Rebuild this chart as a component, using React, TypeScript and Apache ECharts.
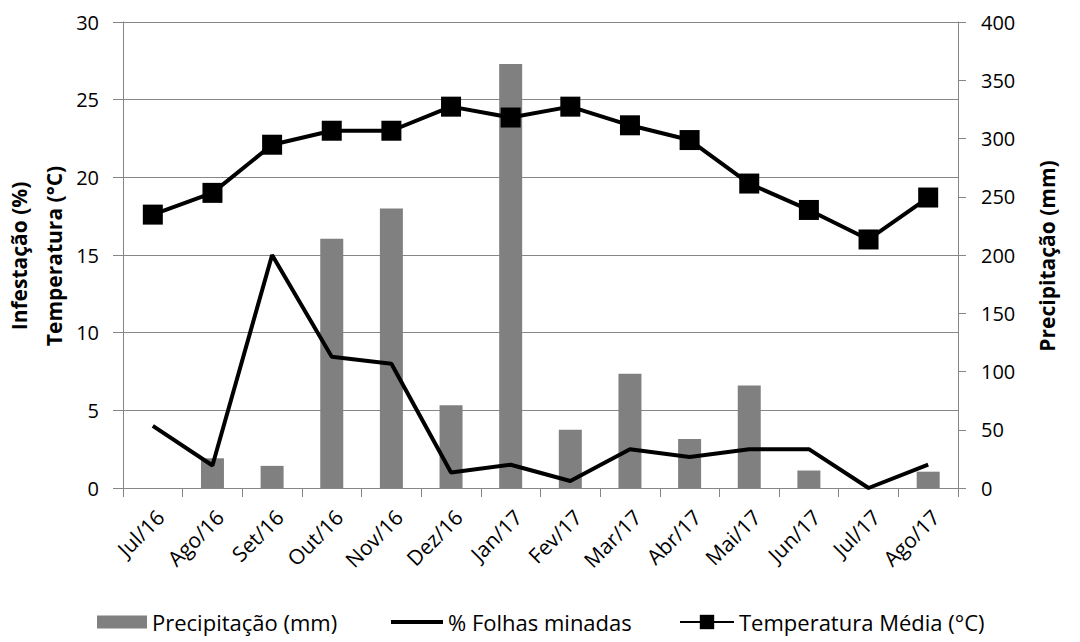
import React, { useEffect, useRef } from "react";
import * as echarts from "echarts";

const categories = ["Jul/16", "Ago/16", "Set/16", "Out/16", "Nov/16", "Dez/16", "Jan/17", "Fev/17", "Mar/17", "Abr/17", "Mai/17", "Jun/17", "Jul/17", "Ago/17"];
const precipitacao = [0, 25.5, 19, 214, 240, 71, 364, 50, 98, 42, 88, 15, 0, 14];
const folhasMinadas = [4.0, 1.45, 15.0, 8.45, 8.0, 1.0, 1.5, 0.45, 2.5, 2.0, 2.5, 2.5, 0, 1.5];
const temperatura = [17.6, 19.0, 22.1, 23.0, 23.0, 24.55, 23.85, 24.55, 23.35, 22.4, 19.6, 17.9, 16.0, 18.7];
const leftTicks = { min: 0, max: 30, interval: 5 };
const rightTicks = { min: 0, max: 400, interval: 50 };

const FONT = "'Open Sans', 'Noto Sans', sans-serif";
const AXIS_GRAY = "#868686";

export default function App() {
  const ref = useRef<HTMLDivElement>(null);
  useEffect(() => {
    if (!ref.current) return;
    const chart = echarts.init(ref.current, undefined, { renderer: "svg" });
    const legendText = { fontFamily: FONT, fontSize: 22, color: "#000" };
    chart.setOption({
      animation: false,
      backgroundColor: "#fff",
      textStyle: { fontFamily: FONT },
      grid: { left: 123, right: 122, top: 22, bottom: 154 },
      xAxis: {
        type: "category",
        data: categories,
        boundaryGap: true,
        axisLine: { lineStyle: { color: AXIS_GRAY, width: 1 } },
        axisTick: { show: true, length: 9, lineStyle: { color: AXIS_GRAY } },
        axisLabel: {
          rotate: 45,
          fontSize: 21,
          color: "#000",
          fontFamily: FONT,
          margin: 18,
          interval: 0,
          verticalAlign: "top",
        },
      },
      yAxis: [
        {
          type: "value",
          min: leftTicks.min,
          max: leftTicks.max,
          interval: leftTicks.interval,
          axisLine: { show: true, lineStyle: { color: AXIS_GRAY } },
          axisTick: { show: true, length: 10, lineStyle: { color: AXIS_GRAY } },
          axisLabel: { fontSize: 20, color: "#000", fontFamily: FONT, margin: 24 },
          splitLine: { show: true, lineStyle: { color: AXIS_GRAY, width: 1 } },
        },
        {
          type: "value",
          min: rightTicks.min,
          max: rightTicks.max,
          interval: rightTicks.interval,
          position: "right",
          axisLine: { show: true, lineStyle: { color: AXIS_GRAY } },
          axisTick: { show: true, length: 8, lineStyle: { color: AXIS_GRAY } },
          axisLabel: { fontSize: 20, color: "#000", fontFamily: FONT, margin: 23 },
          splitLine: { show: false },
        },
      ],
      legend: [
        {
          data: [{ name: "Precipitação (mm)", icon: "rect" }],
          left: 97,
          top: 611,
          itemWidth: 50,
          itemHeight: 13,
          textStyle: legendText,
          padding: 0,
        },
        {
          data: [{ name: "% Folhas minadas", icon: "rect" }],
          left: 391,
          top: 611,
          itemWidth: 52,
          itemHeight: 4,
          textStyle: legendText,
          padding: 0,
        },
        {
          data: ["Temperatura Média (°C)"],
          left: 679,
          top: 611,
          itemWidth: 54,
          itemHeight: 18,
          textStyle: legendText,
          padding: 0,
        },
      ],
      graphic: [
        {
          type: "text",
          x: 36,
          y: 256,
          rotation: Math.PI / 2,
          style: {
            text: "Infestação (%)\nTemperatura (°C)",
            fontFamily: FONT,
            fontSize: 21,
            fontWeight: "bold",
            lineHeight: 35,
            align: "center",
            verticalAlign: "middle",
            fill: "#000",
          },
        },
        {
          type: "text",
          x: 1047,
          y: 256,
          rotation: Math.PI / 2,
          style: {
            text: "Precipitação (mm)",
            fontFamily: FONT,
            fontSize: 21,
            fontWeight: "bold",
            align: "center",
            verticalAlign: "middle",
            fill: "#000",
          },
        },
      ],
      series: [
        {
          name: "Precipitação (mm)",
          type: "bar",
          yAxisIndex: 1,
          data: precipitacao,
          barWidth: 23,
          itemStyle: { color: "#808080" },
        },
        {
          name: "% Folhas minadas",
          type: "line",
          yAxisIndex: 0,
          data: folhasMinadas,
          symbol: "none",
          lineStyle: { color: "#000", width: 4 },
          itemStyle: { color: "#000" },
        },
        {
          name: "Temperatura Média (°C)",
          type: "line",
          yAxisIndex: 0,
          data: temperatura,
          symbol: "rect",
          symbolSize: 20,
          lineStyle: { color: "#000", width: 4 },
          itemStyle: { color: "#000" },
        },
      ],
    });
    return () => chart.dispose();
  }, []);
  return (
    <div
      ref={ref}
      style={{ position: "fixed", left: 0, top: 0, width: 1080, height: 642, background: "#fff" }}
    />
  );
}
